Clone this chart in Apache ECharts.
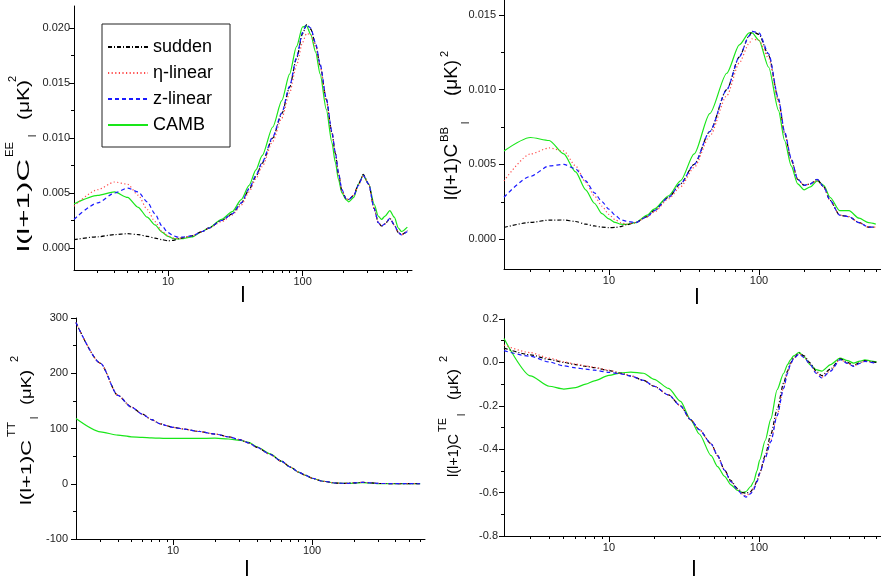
<!DOCTYPE html>
<html><head><meta charset="utf-8">
<script src="https://cdn.jsdelivr.net/npm/echarts@6/dist/echarts.min.js"></script>
<style>html,body{margin:0;padding:0;background:#fff}#c{width:881px;height:581px}</style>
</head><body><div id="c"></div>
<script>
const seriesNames = ['sudden', 'η-linear', 'z-linear', 'CAMB'];

// ---- EE panel ----
const lEE = [2,3,4,5,6,7,8,9,10,11,12,13,15,18,20,25,30,35,40,45,50,60,70,80,90,100,107,115,125,135,150,165,175,185,196,210,220,240,260,282,310,340,365,386,410,445,480,515,543,600];
const eeSudden = [0.00076,0.00102,0.00122,0.0013,0.00122,0.00106,0.0009,0.00076,0.00065,0.0007,0.00085,0.00095,0.0011,0.0015,0.0018,0.0025,0.0031,0.0041,0.0053,0.0065,0.0077,0.0100,0.0122,0.0146,0.0172,0.0195,0.0203,0.0199,0.0185,0.0166,0.0135,0.0105,0.0086,0.0067,0.0052,0.0045,0.0044,0.0048,0.0058,0.0067,0.0058,0.0036,0.0023,0.0020,0.0022,0.0027,0.0021,0.0014,0.0012,0.0016];
const eeEta = [0.0038,0.0053,0.0060,0.0058,0.0048,0.0035,0.0024,0.0015,0.0011,0.0009,0.00088,0.00095,0.0011,0.0015,0.0018,0.0024,0.0030,0.0039,0.0051,0.0063,0.0074,0.0097,0.0118,0.0141,0.0166,0.0187,0.0195,0.0194,0.0183,0.0165,0.0134,0.0104,0.0086,0.0067,0.0052,0.0045,0.0044,0.0048,0.0057,0.0066,0.0058,0.0036,0.0023,0.0020,0.0022,0.0027,0.0021,0.0014,0.0012,0.0016];
const eeZ = [0.0026,0.0041,0.0050,0.00545,0.0051,0.0042,0.0031,0.0020,0.0014,0.0011,0.00098,0.0010,0.0011,0.0015,0.0018,0.0025,0.0031,0.0041,0.0054,0.0066,0.0078,0.0101,0.0123,0.0147,0.0173,0.0196,0.0203,0.0200,0.0186,0.0167,0.0136,0.0106,0.0087,0.0068,0.0053,0.0045,0.0044,0.0048,0.0057,0.0066,0.0058,0.0036,0.0023,0.0020,0.0022,0.0027,0.0021,0.0014,0.0012,0.0015];
const eeCamb = [0.0040,0.00478,0.0051,0.0046,0.0037,0.0028,0.0021,0.00145,0.00105,0.00085,0.00082,0.00086,0.0010,0.0015,0.0018,0.0026,0.0033,0.0044,0.0057,0.0071,0.0084,0.0110,0.0134,0.0158,0.0183,0.0201,0.0202,0.0194,0.0178,0.0158,0.0126,0.0096,0.0078,0.0062,0.0050,0.0044,0.0042,0.0046,0.0058,0.0066,0.0058,0.0040,0.0029,0.0026,0.0029,0.0034,0.0028,0.0018,0.0015,0.0019];

// ---- BB panel ----
const lBB = [2,3,4,5,6,7,8,9,10,11,12,13,15,18,20,25,30,37,47,61,74,86,90,100,116,135,148,164,181,200,220,244,270,297,345,398,464,538,600];
const bbSudden = [0.00078,0.00112,0.00127,0.00128,0.00118,0.0010,0.00088,0.0008,0.00077,0.00078,0.00084,0.00095,0.0011,0.0015,0.0019,0.0028,0.0037,0.0050,0.0072,0.0100,0.0122,0.0136,0.0139,0.0137,0.0123,0.0093,0.0071,0.0053,0.0040,0.0036,0.0037,0.0040,0.0035,0.0026,0.0016,0.0015,0.0011,0.0008,0.0008];
const bbEta = [0.0039,0.0057,0.0061,0.0059,0.0049,0.0038,0.0029,0.0022,0.00165,0.0013,0.0011,0.0010,0.0011,0.0015,0.0018,0.0027,0.0035,0.0048,0.0069,0.0096,0.0118,0.0131,0.0134,0.0133,0.0121,0.0092,0.0071,0.0053,0.0040,0.0036,0.0037,0.0039,0.0035,0.0026,0.0016,0.0015,0.0011,0.0008,0.0008];
const bbZ = [0.0028,0.0042,0.0049,0.0050,0.0047,0.0039,0.0031,0.0025,0.0020,0.0016,0.0013,0.0012,0.0011,0.0015,0.0019,0.0028,0.0037,0.0050,0.0072,0.0100,0.0122,0.0136,0.0139,0.0138,0.0124,0.0094,0.0072,0.0054,0.0040,0.0036,0.0037,0.0040,0.0035,0.0026,0.0016,0.0015,0.0011,0.0008,0.0008];
const bbCamb = [0.0059,0.0068,0.0066,0.0057,0.0045,0.0033,0.0024,0.0017,0.00135,0.00112,0.0010,0.00098,0.0011,0.0016,0.0020,0.0029,0.0039,0.0057,0.0084,0.0111,0.0130,0.0138,0.0138,0.0133,0.0115,0.0086,0.0066,0.0049,0.0037,0.0033,0.0035,0.0039,0.0036,0.0028,0.0019,0.0019,0.0014,0.0011,0.0010];

// ---- TT panel ----
const lTT = [2,3,4,5,6,7,8,9,10,12,15,20,25,30,35,40,50,60,70,80,90,100,120,150,180,200,230,270,300,400,500,600];
const ttSudden = [292,218,160,139,126,116,109,105,102,99,95,90,85,80,74,66,53,41,30,21,15,10,4.5,1,0.8,1.5,2.5,1.5,0.5,0.3,0.1,0];
const ttEta = [292,218,160,139,126,116,109,105,102,99,95,90,85,80,74,66,53,41,30,21,15,10,4.5,1,0.8,1.5,2.5,1.5,0.5,0.3,0.1,0];
const ttZ = [292,218,160,139,126,116,109,105,102,99,95,90,85,80,74,66,53,41,30,21,15,10,4.5,1,0.8,1.5,2.5,1.5,0.5,0.3,0.1,0];
const ttCamb = [118,94,88,85,84,83,82.5,82,82,82,82,82.5,81,79,75,67,54,41,30,21,15,10,4.5,1,0.5,1.2,2.2,1.3,0.4,0.2,0.1,0];

// ---- TE panel ----
const lTE = [2,3,4,5,6,7,8,10,12,14,17,20,25,30,35,40,48,53,59,65,72,78,82,88,92,97,101,110,120,132,146,155,162,170,185,200,220,240,262,300,347,390,426,470,508,560,607];
const teSudden = [0.066,0.035,0.014,0.0,-0.01,-0.018,-0.024,-0.038,-0.05,-0.062,-0.083,-0.11,-0.15,-0.2,-0.264,-0.31,-0.375,-0.43,-0.497,-0.545,-0.582,-0.6,-0.603,-0.595,-0.58,-0.545,-0.51,-0.43,-0.33,-0.218,-0.095,-0.04,-0.003,0.02,0.043,0.03,-0.003,-0.04,-0.061,-0.03,0.016,0.0,-0.015,0.0,0.008,0.003,0.0];
const teEta = [0.08,0.045,0.02,0.003,-0.008,-0.016,-0.023,-0.036,-0.05,-0.062,-0.083,-0.11,-0.15,-0.2,-0.264,-0.31,-0.375,-0.43,-0.497,-0.55,-0.585,-0.608,-0.615,-0.6,-0.583,-0.548,-0.51,-0.44,-0.355,-0.245,-0.115,-0.047,-0.008,0.018,0.04,0.024,-0.01,-0.048,-0.068,-0.038,0.014,-0.004,-0.017,-0.004,0.006,0.001,-0.003];
const teZ = [0.054,0.028,0.002,-0.016,-0.025,-0.031,-0.036,-0.046,-0.053,-0.063,-0.083,-0.11,-0.15,-0.2,-0.264,-0.31,-0.375,-0.43,-0.497,-0.55,-0.587,-0.612,-0.621,-0.605,-0.587,-0.55,-0.51,-0.44,-0.365,-0.245,-0.12,-0.049,-0.01,0.018,0.038,0.022,-0.011,-0.05,-0.072,-0.04,0.013,-0.005,-0.018,-0.005,0.005,0.0,-0.004];
const teCamb = [0.11,-0.062,-0.11,-0.123,-0.116,-0.1,-0.085,-0.06,-0.048,-0.045,-0.05,-0.078,-0.12,-0.18,-0.264,-0.33,-0.43,-0.48,-0.525,-0.564,-0.59,-0.6,-0.595,-0.572,-0.55,-0.5,-0.45,-0.36,-0.26,-0.126,-0.05,-0.01,0.012,0.03,0.046,0.025,-0.011,-0.033,-0.04,-0.01,0.02,0.008,-0.003,0.006,0.012,0.006,0.003];

// ---- ticks ----
const xMajorTicks = [10, 100];
const xMinorTicks = [3,4,5,6,7,8,9,20,30,40,50,60,70,80,90,200,300,400,500,600];
const yTicksEE = [0, 0.005, 0.010, 0.015, 0.020];
const yMinorEE = [0.0025, 0.0075, 0.0125, 0.0175];
const yTicksBB = [0, 0.005, 0.010, 0.015];
const yMinorBB = [0.0025, 0.0075, 0.0125];
const yTicksTT = [-100, 0, 100, 200, 300];
const yMinorTT = [-50, 50, 150, 250];
const yTicksTE = [-0.8, -0.6, -0.4, -0.2, 0, 0.2];
const yMinorTE = [-0.7, -0.5, -0.3, -0.1, 0.1];

const FONT = '"Liberation Sans", Arial, sans-serif';
const colors = ['#000000', '#ff4a4a', '#1a1aff', '#19e619'];
const dashes = [[4, 2, 1, 2], [1.2, 2.4], [4, 3], 'solid'];

const panels = [
  { l: lEE, s: [eeSudden, eeEta, eeZ, eeCamb], grid: {left: 74, top: 6, width: 338, height: 264},
    ymin: -0.002, ymax: 0.022, yt: yTicksEE, ym: yMinorEE, fmt: v => v.toFixed(3), lm: 4 },
  { l: lBB, s: [bbSudden, bbEta, bbZ, bbCamb], grid: {left: 504, top: -1, width: 387, height: 270},
    ymin: -0.002, ymax: 0.016, yt: yTicksBB, ym: yMinorBB, fmt: v => v.toFixed(3), lm: 8 },
  { l: lTT, s: [ttSudden, ttEta, ttZ, ttCamb], grid: {left: 76, top: 318, width: 349, height: 221},
    ymin: -100, ymax: 300, yt: yTicksTT, ym: yMinorTT, fmt: v => String(Math.round(v)), lm: 8 },
  { l: lTE, s: [teSudden, teEta, teZ, teCamb], grid: {left: 504, top: 319, width: 381, height: 217},
    ymin: -0.8, ymax: 0.2, yt: yTicksTE, ym: yMinorTE, fmt: v => v.toFixed(1), lm: 6 }
];

const grid = [], xAxis = [], yAxis = [], series = [];
panels.forEach((p, i) => {
  grid.push(Object.assign({containLabel: false}, p.grid));
  xAxis.push({type: 'log', logBase: 10, gridIndex: i, min: 2, max: 650, position: 'bottom',
    axisLine: {show: true, onZero: false, lineStyle: {color: '#000', width: 1}}, splitLine: {show: false},
    axisTick: {customValues: xMajorTicks, length: 6, lineStyle: {color: '#000'}},
    axisLabel: {customValues: xMajorTicks, fontSize: 11, color: '#222', fontFamily: FONT, margin: 6,
      formatter: v => String(Math.round(v))}});
  xAxis.push({type: 'log', logBase: 10, gridIndex: i, min: 2, max: 650, position: 'bottom',
    axisLine: {show: false, onZero: false}, splitLine: {show: false}, axisLabel: {show: false},
    axisTick: {customValues: xMinorTicks, length: 3, lineStyle: {color: '#000'}}});
  yAxis.push({type: 'value', gridIndex: i, min: p.ymin, max: p.ymax, position: 'left',
    axisLine: {show: true, onZero: false, lineStyle: {color: '#000', width: 1}}, splitLine: {show: false},
    axisTick: {show: true, customValues: p.yt, length: 5, lineStyle: {color: '#000'}},
    axisLabel: {customValues: p.yt, fontSize: 11, color: '#222', fontFamily: FONT, margin: p.lm, formatter: p.fmt}});
  yAxis.push({type: 'value', gridIndex: i, min: p.ymin, max: p.ymax, position: 'left',
    axisLine: {show: false, onZero: false}, splitLine: {show: false}, axisLabel: {show: false},
    axisTick: {show: true, customValues: p.ym, length: 3, lineStyle: {color: '#000'}}});
  p.s.forEach((vals, k) => {
    series.push({
      name: seriesNames[k], type: 'line', xAxisIndex: 2 * i, yAxisIndex: 2 * i,
      data: p.l.map((l, j) => [l, vals[j]]),
      symbol: 'none', showSymbol: false, smooth: 0.25, smoothMonotone: 'x',
      z: k === 3 ? 2 : 3,
      lineStyle: {color: colors[k], width: 1.2, type: dashes[k]},
      itemStyle: {color: colors[k]}
    });
  });
});

// rotated axis-title helpers
const mctx = document.createElement('canvas').getContext('2d');
function tw(text, size) { mctx.font = size + 'px ' + FONT; return mctx.measureText(text).width; }
function rot(text, x, y, size, len) {
  const s = len ? len / tw(text, size) : 1;
  return {type: 'text', x: x, y: y, rotation: Math.PI / 2, scaleX: s,
    style: {text: text, font: size + 'px ' + FONT, fill: '#000', align: 'left', verticalAlign: 'middle'}};
}
function yTitle(sup, o) {
  return [
    rot('l(l+1)C', o.x, o.y0, o.F, o.main),
    rot(sup, o.supX, o.supY, 11, o.sup),
    rot('l', o.subX, o.subY, 10, 0),
    rot('(μK)', o.x, o.muY, o.F, o.mu),
    rot('2', o.twoX, o.twoY, 11, 0)
  ];
}
function xTitle(x, y) {
  return {type: 'text', x: x, y: y, style: {text: 'l', font: '22px ' + FONT, fill: '#000', align: 'center', verticalAlign: 'middle'}};
}

const graphic = [].concat(
  yTitle('EE', {x: 24, y0: 252, F: 17, main: 93, supX: 10, supY: 157, sup: 15, subX: 33, subY: 137, muY: 120, mu: 40, twoX: 13, twoY: 82}),
  yTitle('BB', {x: 452, y0: 200, F: 18, main: 56, supX: 445, supY: 142, sup: 15, subX: 466, subY: 124, muY: 96, mu: 36, twoX: 445, twoY: 57}),
  yTitle('TT', {x: 26.5, y0: 505, F: 15, main: 65, supX: 12, supY: 437, sup: 15, subX: 35, subY: 419, muY: 405, mu: 35, twoX: 15, twoY: 362}),
  yTitle('TE', {x: 454, y0: 477, F: 15, main: 43, supX: 443, supY: 432, sup: 14, subX: 462, subY: 416, muY: 400, mu: 31, twoX: 444, twoY: 362}),
  [xTitle(243, 296), xTitle(697, 298), xTitle(247, 570), xTitle(694, 570)]
);

const chart = echarts.init(document.getElementById('c'), null, {renderer: 'canvas'});
chart.setOption({
  animation: false,
  backgroundColor: '#fff',
  textStyle: {fontFamily: FONT},
  grid: grid, xAxis: xAxis, yAxis: yAxis, series: series,
  legend: {
    data: seriesNames, orient: 'vertical', left: 102, top: 24,
    padding: [14, 17, 13, 5], itemGap: 8, itemWidth: 40, itemHeight: 14,
    borderColor: '#222', borderWidth: 1, backgroundColor: '#fff',
    itemStyle: {opacity: 0},
    textStyle: {fontSize: 18, color: '#000', fontFamily: FONT},
    selectedMode: false
  },
  graphic: graphic
});
</script></body></html>
